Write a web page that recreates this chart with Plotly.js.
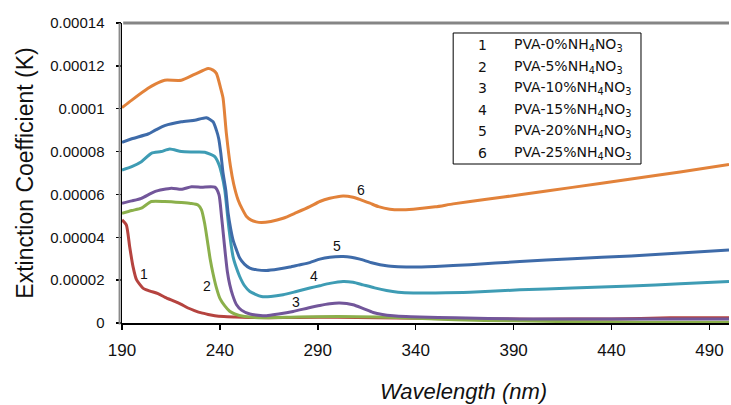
<!DOCTYPE html>
<html>
<head>
<meta charset="utf-8">
<script src="https://cdn.plot.ly/plotly-3.0.1.min.js"></script>
<style>html,body{margin:0;padding:0;background:#fff;}#chart{width:731px;height:405px;}</style>
</head>
<body>
<div id="chart"></div>
<script>
// Wavelength (nm) and extinction coefficient values (x 1e-5) for each sample
const seriesNumbers = ["1", "2", "3", "4", "5", "6"];
const seriesLabels = [
  "PVA-0%NH<sub>4</sub>NO<sub>3</sub>",
  "PVA-5%NH<sub>4</sub>NO<sub>3</sub>",
  "PVA-10%NH<sub>4</sub>NO<sub>3</sub>",
  "PVA-15%NH<sub>4</sub>NO<sub>3</sub>",
  "PVA-20%NH<sub>4</sub>NO<sub>3</sub>",
  "PVA-25%NH<sub>4</sub>NO<sub>3</sub>"
];
const seriesColors = ["#B5433F", "#8BB04B", "#72569A", "#3E9CB4", "#3E6BA9", "#E2823A"];

const x1 = [190, 192.2, 193.9, 195.6, 197.4, 200.7, 204, 208.4, 212, 216.9, 220, 223.7, 227, 230.6, 234, 237.4, 242, 247.6, 255, 265, 280, 300, 320, 340, 370, 400, 440, 470, 500];
const y1 = [4.81, 4.58, 3.57, 2.64, 2.02, 1.63, 1.5, 1.37, 1.2, 1.01, 0.88, 0.70, 0.58, 0.47, 0.40, 0.34, 0.30, 0.28, 0.26, 0.25, 0.26, 0.27, 0.25, 0.22, 0.19, 0.18, 0.19, 0.24, 0.25];

const x2 = [190, 195, 199.9, 205, 211.8, 220.3, 225, 228.8, 230.6, 232.3, 233.5, 235, 236.5, 238.2, 240, 242.5, 245, 247.6, 252.7, 260, 280, 300, 320, 340, 360, 390, 420, 460, 500];
const y2 = [5.12, 5.25, 5.36, 5.67, 5.67, 5.62, 5.58, 5.51, 5.28, 4.6, 3.9, 3.0, 2.3, 1.65, 1.15, 0.8, 0.55, 0.42, 0.3, 0.25, 0.28, 0.3, 0.28, 0.22, 0.15, 0.1, 0.06, 0.04, 0.03];

const x3 = [190, 195, 199.9, 206.7, 215.2, 220.3, 225.5, 230.6, 237.4, 239.5, 240.8, 241.8, 242.8, 243.8, 245, 246.5, 248.5, 251, 255.3, 263.8, 270, 277.4, 285, 291, 296.1, 301.2, 308, 313, 318.3, 323, 328.5, 335, 342.1, 360, 393.2, 430, 470, 500];
const y3 = [5.59, 5.7, 5.82, 6.13, 6.29, 6.24, 6.36, 6.34, 6.34, 6.0, 5.0, 4.1, 3.2, 2.4, 1.8, 1.3, 0.85, 0.6, 0.42, 0.34, 0.42, 0.54, 0.7, 0.82, 0.9, 0.93, 0.85, 0.68, 0.49, 0.40, 0.34, 0.30, 0.28, 0.24, 0.19, 0.19, 0.19, 0.19];

const x4 = [190, 195, 199.9, 205, 210, 214.4, 220.3, 226, 232.3, 237.4, 239.5, 240.8, 242.5, 243.7, 244.7, 246.7, 248.5, 250.1, 252.5, 255.3, 261.2, 266, 272.3, 279, 285.9, 291, 296.1, 302.9, 308, 313.1, 319, 325.1, 331, 338.7, 350, 367.7, 393.2, 420, 450, 475, 500];
const y4 = [7.14, 7.3, 7.53, 7.92, 8.0, 8.12, 8.0, 7.98, 7.97, 7.76, 7.4, 6.99, 6.21, 5.2, 4.35, 3.1, 2.55, 2.17, 1.75, 1.47, 1.24, 1.24, 1.32, 1.47, 1.63, 1.74, 1.85, 1.94, 1.9, 1.78, 1.64, 1.52, 1.44, 1.40, 1.40, 1.43, 1.55, 1.63, 1.73, 1.83, 1.94];

const x5 = [190, 195, 203.3, 207, 211.8, 220.3, 227.1, 233.1, 236.5, 238.2, 239.4, 240.5, 241.6, 243, 244.2, 245.5, 246.7, 248.5, 250.1, 252.5, 255.3, 259, 263.8, 270, 275.7, 280, 285.9, 291, 296.1, 302.9, 307, 311.5, 318, 325.1, 331, 338.7, 350, 367.7, 393.2, 420, 450, 475, 500];
const y5 = [8.43, 8.6, 8.82, 9.0, 9.21, 9.39, 9.46, 9.58, 9.39, 9.0, 8.6, 7.9, 7.0, 6.2, 5.12, 4.4, 3.88, 3.4, 3.03, 2.75, 2.56, 2.48, 2.45, 2.52, 2.61, 2.70, 2.82, 2.98, 3.07, 3.1, 3.07, 2.98, 2.8, 2.67, 2.63, 2.61, 2.64, 2.72, 2.87, 3.0, 3.13, 3.27, 3.41];

const x6 = [190, 195, 203.3, 207, 211.8, 220.3, 227, 234, 236.5, 238.2, 240.4, 241.6, 243.3, 245.4, 247, 249.3, 251.5, 253.6, 256, 258.5, 261.2, 266, 272.3, 279, 285.9, 291, 296.1, 302.9, 308, 312, 316.6, 321, 326.8, 332, 338.7, 350, 359.1, 376.2, 393.2, 420, 450, 475, 500];
const y6 = [10.05, 10.4, 10.95, 11.15, 11.33, 11.33, 11.6, 11.88, 11.8, 11.65, 10.95, 10.5, 8.85, 7.3, 6.5, 5.74, 5.3, 4.97, 4.8, 4.72, 4.69, 4.74, 4.89, 5.15, 5.43, 5.67, 5.82, 5.93, 5.87, 5.75, 5.59, 5.43, 5.31, 5.28, 5.31, 5.42, 5.56, 5.78, 5.98, 6.33, 6.72, 7.05, 7.4];

const xTickVals = [190, 240, 290, 340, 390, 440, 490];
const yTickVals = [0, 0.00002, 0.00004, 0.00006, 0.00008, 0.0001, 0.00012, 0.00014];
const yTickText = ["0", "0.00002", "0.00004", "0.00006", "0.00008", "0.0001", "0.00012", "0.00014"];

// curve number labels: [wavelength, value]
const curveLabelPos = [[201.1, 2.28e-5], [233.6, 1.74e-5], [278.8, 9.6e-6], [288.1, 2.2e-5], [299.9, 3.6e-5], [312.3, 6.21e-5]];

const xs = [x1, x2, x3, x4, x5, x6];
const ys = [y1, y2, y3, y4, y5, y6];

const traces = xs.map((x, i) => ({
  x: x,
  y: ys[i].map(v => v * 1e-5),
  type: 'scatter',
  mode: 'lines',
  name: seriesLabels[i],
  line: {color: seriesColors[i], width: 3, shape: 'spline', smoothing: 0.6},
  hoverinfo: 'skip'
}));

const annotations = [];
curveLabelPos.forEach((p, i) => {
  annotations.push({x: p[0], y: p[1], xref: 'x', yref: 'y', text: seriesNumbers[i], showarrow: false,
    font: {family: 'Liberation Sans, Arial, sans-serif', size: 14, color: '#111'}});
});

// legend box contents
const legTop = 0.9258, legStep = 0.0717;
seriesLabels.forEach((lab, i) => {
  const yy = legTop - i * legStep;
  annotations.push({x: 0.5945, y: yy, xref: 'paper', yref: 'paper', text: seriesNumbers[i], showarrow: false,
    xanchor: 'center', yanchor: 'middle', font: {family: 'DejaVu Sans, sans-serif', size: 14, color: '#111'}});
  annotations.push({x: 0.6418, y: yy, xref: 'paper', yref: 'paper', text: lab, showarrow: false,
    xanchor: 'left', yanchor: 'middle', font: {family: 'DejaVu Sans, sans-serif', size: 14, color: '#111'}});
});

// x axis title
annotations.push({x: 0.563, y: -0.228, xref: 'paper', yref: 'paper', text: '<i>Wavelength (nm)</i>', showarrow: false,
  xanchor: 'center', yanchor: 'middle', font: {family: 'Liberation Sans, Arial, sans-serif', size: 22, color: '#111'}});

const layout = {
  width: 731, height: 405,
  margin: {l: 122, r: 2, t: 23, b: 82, pad: 0},
  paper_bgcolor: '#fff', plot_bgcolor: '#fff',
  showlegend: false,
  xaxis: {
    range: [190, 500], tickvals: xTickVals, ticktext: xTickVals.map(String),
    showgrid: false, zeroline: false, showline: true, linecolor: '#000', linewidth: 1.5,
    ticks: 'outside', ticklen: 5, tickwidth: 1.5, tickcolor: '#000',
    tickfont: {family: 'Liberation Sans, Arial, sans-serif', size: 17, color: '#111'},
    ticklabelstandoff: 6
  },
  yaxis: {
    range: [0, 0.00014], tickvals: yTickVals, ticktext: yTickText,
    showgrid: false, zeroline: false, showline: true, linecolor: '#000', linewidth: 1.5,
    ticks: 'outside', ticklen: 5, tickwidth: 1.5, tickcolor: '#000',
    tickfont: {family: 'Liberation Sans, Arial, sans-serif', size: 15, color: '#111'},
    ticklabelstandoff: 8,
    title: {text: 'Extinction Coefficient (K)', standoff: 10,
      font: {family: 'Liberation Sans, Arial, sans-serif', size: 23, color: '#111'}}
  },
  shapes: [
    {type: 'line', xref: 'paper', yref: 'paper', x0: 0.002, x1: 1, y0: 1, y1: 1, line: {color: '#858585', width: 3}},
    {type: 'line', xref: 'paper', yref: 'paper', x0: -0.004, x1: -0.004, y0: -0.005, y1: 1, line: {color: '#8a8a8a', width: 2}},
    {type: 'rect', xref: 'paper', yref: 'paper', x0: 0.5456, x1: 0.855, y0: 0.53, y1: 0.9667, line: {color: '#000', width: 1}, fillcolor: 'rgba(0,0,0,0)'}
  ],
  annotations: annotations
};

Plotly.newPlot('chart', traces, layout, {staticPlot: true, displayModeBar: false});
</script>
</body>
</html>
